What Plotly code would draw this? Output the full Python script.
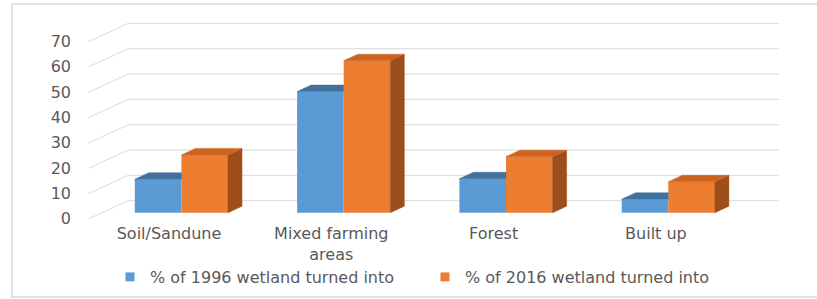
import plotly.graph_objects as go

# ---- data ----
categories = ["Soil/Sandune", "Mixed farming areas", "Forest", "Built up"]
tick_labels = ["Soil/Sandune", "Mixed farming<br>areas", "Forest", "Built up"]
series_names = ["% of 1996 wetland turned into", "% of 2016 wetland turned into"]
values_1996 = [13.2, 47.8, 13.4, 5.3]
values_2016 = [22.8, 60.0, 22.1, 12.2]
y_ticks = [0, 10, 20, 30, 40, 50, 60, 70]

# ---- styling / geometry ----
FONT = "DejaVu Sans"
TXT = "#595959"
BLUE, BLUE_TOP = "#5b9bd5", "#41719c"
ORANGE, ORANGE_TOP, ORANGE_SIDE = "#ed7d31", "#cc6420", "#9e4e1a"
GRID = "#d9d9d9"

W, H = 817, 299
PL, PR, PT, PB = 80, 790, 15, 222         # plot area in pixels
PX_X = 162.3                              # px per category
PX_Y = 2.533                              # px per value unit
X0 = -(169 - PL) / PX_X
X1 = X0 + (PR - PL) / PX_X
Y_ZERO_PX = 212.7
Y0 = -(PB - Y_ZERO_PX) / PX_Y
Y1 = (Y_ZERO_PX - PT) / PX_Y

bw = 46.6 / PX_X          # bar width
off_b = -10.9 / PX_X      # blue bar centre offset
off_o = 35.7 / PX_X       # orange bar centre offset
dxu = 14 / PX_X           # depth dx
dyu = 6.5 / PX_Y          # depth dy

fig = go.Figure()

idx = list(range(len(categories)))
fig.add_trace(go.Bar(x=[i + off_b for i in idx], y=values_1996, width=bw,
                     name=series_names[0], marker=dict(color=BLUE, line=dict(width=0)),
                     showlegend=False, legendgroup="a", hoverinfo="skip"))
fig.add_trace(go.Bar(x=[i + off_o for i in idx], y=values_2016, width=bw,
                     name=series_names[1], marker=dict(color=ORANGE, line=dict(width=0)),
                     showlegend=False, legendgroup="b", hoverinfo="skip"))

# 3D faces derived from data
bt_x, bt_y, ot_x, ot_y, os_x, os_y = [], [], [], [], [], []
for i in idx:
    vb, vo = values_1996[i], values_2016[i]
    xl, xr = i + off_b - bw / 2, i + off_b + bw / 2
    bt_x += [xl, xr, xr, xl + dxu, xl, None]
    bt_y += [vb, vb, vb + dyu, vb + dyu, vb, None]
    xl, xr = i + off_o - bw / 2, i + off_o + bw / 2
    ot_x += [xl, xr, xr + dxu, xl + dxu, xl, None]
    ot_y += [vo, vo, vo + dyu, vo + dyu, vo, None]
    os_x += [xr, xr, xr + dxu, xr + dxu, xr, None]
    os_y += [0, vo, vo + dyu, dyu, 0, None]

for xs, ys, c in [(bt_x, bt_y, BLUE_TOP), (os_x, os_y, ORANGE_SIDE), (ot_x, ot_y, ORANGE_TOP)]:
    fig.add_trace(go.Scatter(x=xs, y=ys, mode="lines", fill="toself", fillcolor=c,
                             line=dict(color=c, width=0.5), showlegend=False,
                             hoverinfo="skip"))

# legend entries (small squares as in the original)
for name, c, g in [(series_names[0], BLUE, "a"), (series_names[1], ORANGE, "b")]:
    fig.add_trace(go.Scatter(x=[None], y=[None], mode="markers", name=name, legendgroup=g,
                             marker=dict(symbol="square", size=9, color=c),
                             hoverinfo="skip"))

# back-wall gridlines
xl_g = X0 + (88.3 - PL) / PX_X
xk_g = X0 + (128.3 - PL) / PX_X
xr_g = X0 + (779 - PL) / PX_X
front_shift = (219 - Y_ZERO_PX) / PX_Y
back_shift = (Y_ZERO_PX - 200.7) / PX_Y
shapes = []
for v in y_ticks:
    shapes.append(dict(type="path", xref="x", yref="y", layer="below",
                       path=f"M{xl_g},{v - front_shift} L{xk_g},{v + back_shift} L{xr_g},{v + back_shift}",
                       line=dict(color=GRID, width=1)))
# chart frame
shapes.append(dict(type="rect", xref="paper", yref="paper", layer="below",
                   x0=(12 - PL) / (PR - PL), x1=(830 - PL) / (PR - PL),
                   y0=(PB - 297) / (PB - PT), y1=(PB - 4) / (PB - PT),
                   line=dict(color="#d9d9d9", width=1.5)))

fig.update_layout(
    width=W, height=H, autosize=False,
    margin=dict(l=PL, r=W - PR, t=PT, b=H - PB, pad=0, autoexpand=False),
    paper_bgcolor="white", plot_bgcolor="white",
    barmode="overlay", hovermode=False,
    font=dict(family=FONT, size=16, color=TXT),
    shapes=shapes,
    showlegend=True,
    legend=dict(orientation="h", x=(110 - PL) / (PR - PL), xanchor="left",
                y=(PB - 277) / (PB - PT), yanchor="middle",
                font=dict(family=FONT, size=16, color=TXT),
                entrywidth=270, entrywidthmode="pixels",
                bgcolor="rgba(0,0,0,0)", itemclick=False, itemdoubleclick=False),
    xaxis=dict(range=[X0, X1], tickvals=idx, ticktext=tick_labels, automargin=False,
               showgrid=False, zeroline=False, showline=False, ticks="",
               tickfont=dict(family=FONT, size=16, color=TXT), fixedrange=True),
    yaxis=dict(range=[Y0, Y1], tickvals=y_ticks, showgrid=False, zeroline=False,
               automargin=False,
               showline=False, ticks="", ticklabelshift=6, ticklabelstandoff=8,
               tickfont=dict(family=FONT, size=16, color=TXT), fixedrange=True),
)

fig.write_html("out.html", config={"displayModeBar": False},
               post_script="document.body.style.margin='0px';")
